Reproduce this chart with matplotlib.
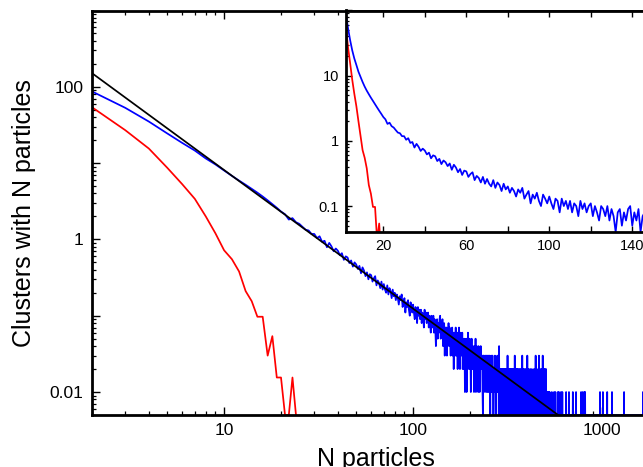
import numpy as np
import matplotlib
matplotlib.use("Agg")
import matplotlib.pyplot as plt
from matplotlib.ticker import LogLocator, NullFormatter, FuncFormatter, MultipleLocator

plt.rcParams['font.family'] = ['Liberation Sans', 'DejaVu Sans']
plt.rcParams['path.simplify'] = False

# ---------------- data ----------------
# blue series, N = 2..19
blue_n_small = list(range(2, 20))
blue_small = [87, 53, 35, 24.5, 18.4, 14.6, 11.5, 9.6, 8.0, 6.8, 5.9, 5.2, 4.6,
              4.1, 3.65, 3.25, 2.9, 2.6]

# blue series, N = 20..529, in units of 0.01
blue_counts_start = 20
blue_counts = [
    232, 214, 182, 190, 168, 160, 146, 134, 131, 118,
    118, 104, 110, 93, 96, 79, 90, 81, 70, 76,
    71, 62, 66, 54, 60, 58, 49, 53, 44, 50,
    47, 41, 45, 36, 43, 39, 33, 37, 30, 35,
    34, 28, 31, 33, 25, 29, 27, 23, 28, 22,
    26, 22, 20, 25, 19, 23, 21, 17, 22, 18,
    20, 16, 19, 17, 14, 18, 16, 19, 13, 15,
    17, 11, 15, 13, 16, 12, 10, 15, 13, 11,
    14, 11, 9, 13, 12, 8, 13, 10, 12, 9,
    12, 8, 11, 10, 7, 12, 9, 11, 8, 10,
    11, 7, 10, 8, 6, 10, 9, 7, 10, 6,
    9, 7, 4, 8, 9, 5, 8, 6, 9, 10,
    5, 8, 6, 9, 4, 7, 8, 3, 7, 5,
    7, 3, 6, 5, 8, 4, 7, 5, 3, 6,
    5, 7, 3, 6, 2, 6, 5, 3, 7, 4,
    3, 6, 2, 5, 4, 7, 3, 2, 6, 4,
    5, 3, 6, 2, 5, 4, 2, 5, 1, 4,
    3, 5, 1, 4, 2, 6, 3, 4, 2, 5,
    2, 4, 1, 3, 5, 2, 3, 4, 2, 3,
    1, 4, 3, 2, 5, 1, 3, 4, 2, 3,
    3, 1, 4, 2, 3, 1, 3, 2, 4, 2,
    3, 2, 3, 1, 0, 3, 2, 3, 2, 2,
    1, 3, 2, 2, 3, 1, 2, 3, 2, 1,
    2, 3, 2, 1, 3, 2, 0, 2, 1, 3,
    2, 1, 2, 3, 1, 2, 0, 2, 2, 1,
    2, 3, 1, 2, 0, 2, 1, 2, 1, 3,
    1, 2, 1, 2, 0, 4, 1, 2, 1, 2,
    2, 1, 0, 2, 1, 2, 1, 1, 2, 0,
    2, 1, 2, 1, 0, 2, 1, 2, 1, 1,
    2, 0, 1, 2, 1, 1, 3, 1, 0, 2,
    1, 2, 1, 0, 1, 2, 1, 1, 2, 0,
    1, 2, 1, 1, 0, 2, 1, 0, 1, 2,
    1, 0, 2, 1, 1, 3, 1, 0, 1, 1,
    2, 1, 0, 1, 2, 1, 1, 0, 2, 1,
    1, 0, 1, 2, 1, 0, 1, 1, 2, 0,
    1, 1, 0, 2, 1, 1, 0, 1, 3, 1,
    0, 1, 1, 2, 0, 1, 1, 0, 1, 2,
    1, 0, 1, 1, 0, 2, 1, 1, 0, 1,
    1, 0, 3, 1, 0, 1, 1, 0, 1, 2,
    0, 1, 1, 0, 1, 1, 0, 2, 1, 0,
    1, 1, 0, 1, 0, 2, 1, 0, 1, 1,
    0, 1, 0, 1, 1, 0, 2, 1, 0, 1,
    1, 0, 1, 0, 1, 3, 0, 1, 1, 0,
    1, 0, 2, 1, 0, 1, 0, 1, 0, 1,
    1, 0, 1, 3, 0, 1, 0, 1, 0, 1,
    0, 2, 1, 0, 1, 0, 1, 1, 0, 2,
    0, 1, 0, 1, 0, 3, 0, 1, 1, 0,
    1, 0, 2, 0, 1, 0, 1, 0, 2, 0,
    1, 0, 1, 0, 0, 2, 0, 1, 0, 1,
    0, 1, 0, 0, 1, 0, 1, 0, 0, 1,
    0, 1, 0, 0, 0, 1, 0, 0, 1, 0,
]
# beyond N = 529: only isolated clusters (one count each = 0.01)
blue_sparse_n = [542, 557, 566, 583, 591, 606, 616, 645, 668, 700, 728,
                 774, 790, 806, 813, 975, 1010, 1064, 1128, 1307, 1645]
blue_last_n = 1700
count_unit = 0.01

# red series, N = 2..24
red_n = list(range(2, 25))
red_vals = [54, 27, 15.5, 8.7, 5.3, 3.4, 2.0, 1.2, 0.72, 0.55, 0.38, 0.21,
            0.155, 0.097, 0.097, 0.030, 0.054, 0.0155, 0.0155, 0, 0, 0.0155, 0]

# black power-law fit: two end points
fit_x = [2, 585]
fit_y = [151, 0.005]

# ---------------- assemble blue ----------------
blue_n = np.arange(2, blue_last_n + 1)
blue = np.zeros(len(blue_n))
blue[:len(blue_small)] = blue_small
i0 = blue_counts_start - 2
blue[i0:i0 + len(blue_counts)] = np.array(blue_counts) * count_unit
for n in blue_sparse_n:
    blue[n - 2] = count_unit
red_n = np.array(red_n)
red_vals = np.array(red_vals)

# ---------------- figure ----------------
W, H = 643, 467
fig = plt.figure(figsize=(W / 100, H / 100), dpi=100)

ax_l, ax_r, ax_t, ax_b = 92, 659, 10.5, 415
ax = fig.add_axes([ax_l / W, 1 - ax_b / H, (ax_r - ax_l) / W, (ax_b - ax_t) / H])
ymin_main = 0.005
ax.set_xscale('log')
ax.set_yscale('log')
ax.set_xlim(2, 2000)
ax.set_ylim(ymin_main, 1000)

lw = 1.25
ax.plot(blue_n, np.maximum(blue, ymin_main), color='#0000ff', lw=lw, zorder=2)
ax.plot(red_n, np.maximum(red_vals, ymin_main), color='#ff0000', lw=lw, zorder=2)
ax.plot(fit_x, fit_y, color='black', lw=lw, zorder=3)

def main_x_fmt(v, pos):
    return '%d' % round(v)

def main_y_fmt(v, pos):
    e = int(round(np.log10(v)))
    if e % 2 != 0:
        return ''
    if e >= 0:
        return '%d' % round(v)
    return ('%.' + str(-e) + 'f') % v

ax.xaxis.set_major_locator(LogLocator(base=10, numticks=10))
ax.xaxis.set_minor_locator(LogLocator(base=10, subs=np.arange(2, 10), numticks=20))
ax.xaxis.set_major_formatter(FuncFormatter(main_x_fmt))
ax.xaxis.set_minor_formatter(NullFormatter())
ax.yaxis.set_major_locator(LogLocator(base=10, numticks=12))
ax.yaxis.set_minor_locator(LogLocator(base=10, subs=np.arange(2, 10), numticks=20))
ax.yaxis.set_major_formatter(FuncFormatter(main_y_fmt))
ax.yaxis.set_minor_formatter(NullFormatter())

ax.tick_params(which='both', direction='in', top=True, right=True, color='black')
ax.tick_params(which='major', length=6, width=1.0, labelsize=12.5, pad=6)
ax.tick_params(which='minor', length=3, width=0.9)
for s in ax.spines.values():
    s.set_linewidth(2.0)

ax.set_xlabel('N particles', fontsize=18, labelpad=6)
ax.set_ylabel('Clusters with N particles', fontsize=18, labelpad=10)

# ---------------- inset ----------------
in_l, in_r, in_t, in_b = 346, 653, 10.5, 232
ins = fig.add_axes([in_l / W, 1 - in_b / H, (in_r - in_l) / W, (in_b - in_t) / H])
ins.set_facecolor('white')
ins.set_yscale('log')
ins.set_xlim(2, 150)
ins.set_ylim(0.04, 100)
ins.plot(blue_n, np.where(blue > 0, blue, np.nan), color='#0000ff', lw=lw)
ins.plot(red_n, red_vals, color='#ff0000', lw=lw)

inset_x_labels = [20, 60, 100, 140]

def ins_x_fmt(v, pos):
    return '%d' % round(v) if int(round(v)) in inset_x_labels else ''

def ins_y_fmt(v, pos):
    e = int(round(np.log10(v)))
    if e > 1 or e < -1:
        return ''
    return '%g' % v

ins.xaxis.set_major_locator(MultipleLocator(20))
ins.xaxis.set_major_formatter(FuncFormatter(ins_x_fmt))
ins.yaxis.set_major_locator(LogLocator(base=10, numticks=12))
ins.yaxis.set_minor_locator(LogLocator(base=10, subs=np.arange(2, 10), numticks=20))
ins.yaxis.set_major_formatter(FuncFormatter(ins_y_fmt))
ins.yaxis.set_minor_formatter(NullFormatter())
ins.tick_params(which='both', direction='in', top=True, right=True)
ins.tick_params(which='major', length=4.5, width=1.0, labelsize=10.5, pad=5)
ins.tick_params(which='minor', length=2.5, width=0.9)
for s in ins.spines.values():
    s.set_linewidth(2.0)

fig.savefig('out.png', dpi=100)
